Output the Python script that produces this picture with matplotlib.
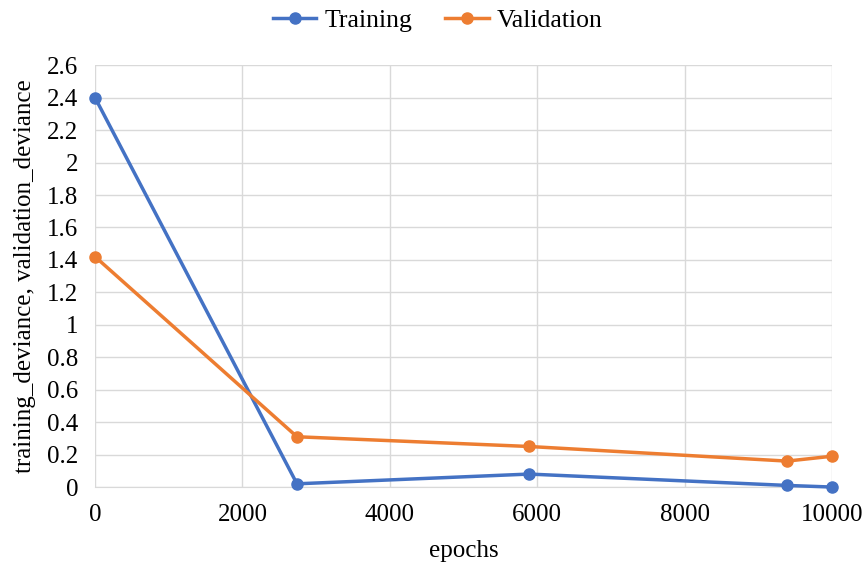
import matplotlib.pyplot as plt

epochs = [0, 2740, 5890, 9390, 10000]
training = [2.40, 0.02, 0.08, 0.01, 0.00]
validation = [1.42, 0.31, 0.25, 0.16, 0.19]

plt.rcParams['font.family'] = ['Liberation Serif', 'DejaVu Serif']

fig = plt.figure(figsize=(8.64, 5.67), dpi=100)
ax = fig.add_axes([0.11, 0.141, 0.853, 0.744])

ax.plot(epochs, training, color='#4472C4', lw=2.5, marker='o', ms=8, label='Training', clip_on=False, zorder=3)
ax.plot(epochs, validation, color='#ED7D31', lw=2.5, marker='o', ms=8, label='Validation', clip_on=False, zorder=3)

ax.set_xlim(0, 10000)
ax.set_ylim(0, 2.6)
ax.set_xticks([0, 2000, 4000, 6000, 8000, 10000])
ax.set_yticks([i * 0.2 for i in range(14)])
ax.set_yticklabels(['0', '0.2', '0.4', '0.6', '0.8', '1', '1.2', '1.4', '1.6', '1.8', '2', '2.2', '2.4', '2.6'])
ax.grid(True, color='#D9D9D9', lw=1)
ax.set_axisbelow(True)
for s in ['top', 'right', 'left']:
    ax.spines[s].set_visible(False)
ax.spines['bottom'].set_color('#D9D9D9')
ax.tick_params(axis='x', length=0, labelsize=18, pad=12)
ax.tick_params(axis='y', length=0, labelsize=18, pad=12)

ax.set_xlabel('epochs', fontsize=18, labelpad=10)
ax.set_ylabel('training_deviance, validation_deviance', fontsize=18, labelpad=8)

ax.legend(loc='center', bbox_to_anchor=(0.465, 1.105), ncol=2, frameon=False, fontsize=18.5,
          handlelength=1.7, handletextpad=0.3, columnspacing=1.3)

fig.savefig('out.png', dpi=100)
